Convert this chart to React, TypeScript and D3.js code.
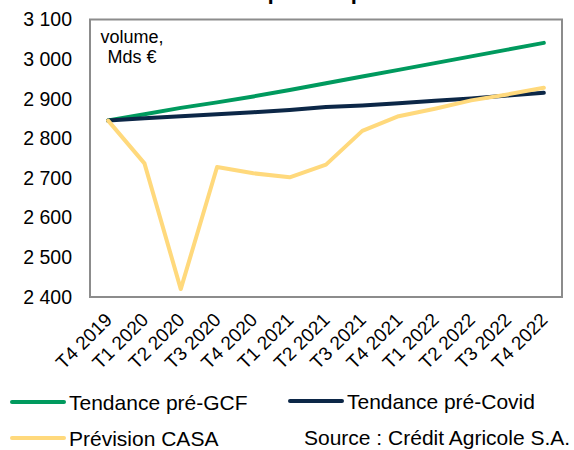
import React, { useEffect, useRef } from 'react';
import * as d3 from 'd3';

const quarters = [
  'T4 2019', 'T1 2020', 'T2 2020', 'T3 2020', 'T4 2020', 'T1 2021', 'T2 2021',
  'T3 2021', 'T4 2021', 'T1 2022', 'T2 2022', 'T3 2022', 'T4 2022',
];
const preGcf = [2845, 2861, 2877, 2891, 2906, 2922, 2939, 2956, 2973, 2990, 3007, 3024, 3041];
const preCovid = [2845, 2851, 2856, 2861, 2866, 2872, 2879, 2883, 2889, 2895, 2901, 2908, 2915];
const casa = [2845, 2737, 2420, 2728, 2712, 2702, 2734, 2819, 2856, 2875, 2896, 2911, 2928];
const yTicks = [2400, 2500, 2600, 2700, 2800, 2900, 3000, 3100];

const series = [
  { name: 'Tendance pré-GCF', values: preGcf, color: '#009a5e' },
  { name: 'Tendance pré-Covid', values: preCovid, color: '#0c2747' },
  { name: 'Prévision CASA', values: casa, color: '#ffd97c' },
];

const App: React.FC = () => {
  const svgRef = useRef<SVGSVGElement>(null);
  const width = 574;
  const height = 450;
  const plot = { left: 90, right: 562, top: 19.5, bottom: 297 };
  const font = 'Liberation Sans, Arial, sans-serif';

  useEffect(() => {
    const svg = d3.select(svgRef.current);
    svg.selectAll('*').remove();

    const x = d3.scaleBand<string>().domain(quarters).range([plot.left, plot.right]);
    const cx = (q: string) => (x(q) as number) + x.bandwidth() / 2;
    const y = d3.scaleLinear().domain([2400, 3100]).range([plot.bottom, plot.top]);

    // title, cut off at the top of the picture (as in the source)
    svg
      .append('text')
      .attr('x', 300)
      .attr('y', -1)
      .attr('text-anchor', 'middle')
      .attr('font-family', font)
      .attr('font-weight', 'bold')
      .attr('font-size', 22)
      .text('Crédit : quelle reprise ?');

    // plot frame
    svg
      .append('path')
      .attr('d', `M${plot.left},${plot.top}H${plot.right}V${plot.bottom}H${plot.left}Z`)
      .attr('fill', 'none')
      .attr('stroke', '#8c8c8c')
      .attr('stroke-width', 2);

    const yAxis = d3.axisLeft(y).tickValues(yTicks).tickSize(0).tickPadding(0)
      .tickFormat((d) => d3.format(',')(d as number).replace(',', ' '));
    const gy = svg.append('g').attr('transform', `translate(72,0)`).call(yAxis);
    gy.select('.domain').remove();
    gy.selectAll('text').attr('font-family', font).attr('font-size', 19.5).attr('fill', '#000');

    const xAxis = d3.axisBottom(x).tickSize(0).tickPadding(0);
    const gx = svg.append('g').attr('transform', `translate(0,${plot.bottom})`).call(xAxis);
    gx.select('.domain').remove();
    gx.selectAll('text')
      .attr('font-family', font)
      .attr('font-size', 19)
      .attr('fill', '#000')
      .attr('text-anchor', 'end')
      .attr('dy', 0)
      .attr('y', 0)
      .attr('transform', 'translate(5,24) rotate(-45)');

    const line = d3
      .line<number>()
      .x((_, i) => cx(quarters[i]))
      .y((d) => y(d));

    // draw order: pré-GCF, pré-Covid, CASA on top
    series.forEach((s) => {
      svg
        .append('path')
        .datum(s.values)
        .attr('d', line)
        .attr('fill', 'none')
        .attr('stroke', s.color)
        .attr('stroke-width', 4)
        .attr('stroke-linejoin', 'round')
        .attr('stroke-linecap', 'round');
    });

    svg
      .append('text')
      .attr('x', 132)
      .attr('font-family', font)
      .attr('font-size', 18)
      .attr('text-anchor', 'middle')
      .selectAll('tspan')
      .data(['volume,', 'Mds €'])
      .join('tspan')
      .attr('x', 132)
      .attr('y', (_, i) => 43 + i * 20)
      .text((d) => d);

    // legend
    const legendPos = [
      { x: 12, y: 402 },
      { x: 290, y: 401 },
      { x: 12, y: 438 },
    ];
    series.forEach((s, i) => {
      const p = legendPos[i];
      svg
        .append('line')
        .attr('x1', p.x)
        .attr('x2', p.x + 52)
        .attr('y1', p.y)
        .attr('y2', p.y)
        .attr('stroke', s.color)
        .attr('stroke-width', 4)
        .attr('stroke-linecap', 'round');
      svg
        .append('text')
        .attr('x', p.x + 57)
        .attr('y', p.y + 7.5)
        .attr('font-family', font)
        .attr('font-size', 21)
        .attr('fill', '#000')
        .text(s.name);
    });

    svg
      .append('text')
      .attr('x', 304)
      .attr('y', 445)
      .attr('font-family', font)
      .attr('font-size', 21)
      .attr('fill', '#000')
      .text('Source : Crédit Agricole S.A.');
  }, []);

  return (
    <div style={{ position: 'absolute', left: 0, top: 0 }}>
      <svg ref={svgRef} width={width} height={height} style={{ display: 'block', background: '#fff' }} />
    </div>
  );
};

export default App;
